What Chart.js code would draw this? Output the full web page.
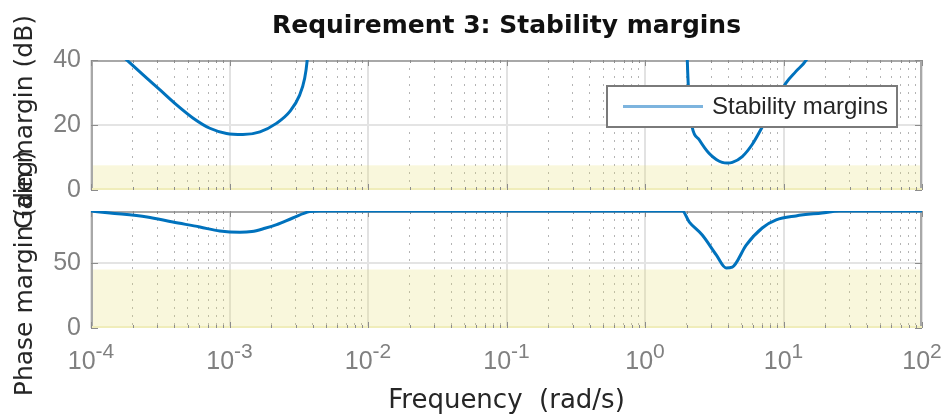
<!DOCTYPE html>
<html>
<head>
<meta charset="utf-8">
<script src="https://cdn.jsdelivr.net/npm/chart.js@4.4.1/dist/chart.umd.min.js"></script>
<style>
  html, body { margin: 0; padding: 0; background: #fff; }
  #wrap { position: relative; width: 951px; height: 419px; }
  #wrap canvas { position: absolute; left: 0; top: 0; }
</style>
</head>
<body>
<div id="wrap">
  <canvas id="gainChart" width="951" height="419"></canvas>
  <canvas id="phaseChart" width="951" height="419"></canvas>
</div>
<script>
// values
const xDecades = [1e-4, 1e-3, 1e-2, 1e-1, 1, 10, 100];
const xExponents = ['-4', '-3', '-2', '-1', '0', '1', '2'];
const gainTicks = [0, 20, 40];
const phaseTicks = [0, 50];
const gainLimit = 7.6;   // dB, shaded requirement band
const phaseLimit = 45;   // deg

// gain margin (dB); null splits the two branches (margin goes off the top)
const gainFreq = [1e-4, 1.81e-4, 2.38e-4, 3.15e-4, 4.15e-4, 5.47e-4, 7.21e-4, 9.52e-4, 1.25e-3, 1.66e-3, 2.18e-3, 2.72e-3, 3.21e-3, 3.49e-3, 3.63e-3, 3.75e-3,
                  0.05,
                  2.0, 2.02, 2.05, 2.11, 2.19, 2.47, 2.91, 3.27, 3.61, 3.93, 4.27, 5.04, 5.94, 7.02, 8.57, 10.4, 12.3, 14.6, 17];
const gainDb = [50, 40, 35.4, 30.8, 26.2, 22.1, 19.0, 17.4, 17.1, 17.9, 20.5, 24.1, 29.2, 34.4, 39.5, 48,
                null,
                48, 40, 32.9, 25, 19.4, 15.4, 11.2, 9.4, 8.5, 8.3, 8.5, 10.3, 14.0, 19.4, 26.2, 32.9, 36.5, 40, 46];

// phase margin (deg)
const phaseFreq = [1e-4, 1.37e-4, 2.54e-4, 3.9e-4, 6.11e-4, 8.51e-4, 1.19e-3, 1.45e-3, 1.8e-3, 2.19e-3, 2.86e-3, 3.79e-3, 4.5e-3,
                   1.86, 2.09, 2.59, 3.27, 3.85, 4.27, 5.38, 7.02, 8.85, 12.3, 19.0, 25.2, 100];
const phaseDeg = [90, 88.5, 85.4, 81.5, 77.7, 74.6, 73.6, 74.2, 76.7, 79.5, 84.6, 89.5, 90,
                  90, 81.5, 71.5, 56.2, 46.2, 46.9, 63.8, 76.9, 83.1, 86.2, 88.5, 90, 90];

const lineBlue = '#0072BD';
const tickGray = '#808080';
const textDark = '#262626';

const isDecade = v => xDecades.includes(v);

function xAxis(height, showTitle) {
  return {
    type: 'logarithmic',
    min: xDecades[0],
    max: xDecades[xDecades.length - 1],
    afterBuildTicks(scale) {
      const t = [];
      xDecades.forEach((d, i) => {
        if (i === xDecades.length - 1) { t.push({ value: d }); return; }
        for (let m = 1; m < 10; m++) t.push({ value: d * m });
      });
      scale.ticks = t;
    },
    afterFit(scale) { scale.height = height; },
    ticks: { display: false, autoSkip: false },
    grid: {
      drawTicks: false,
      color: c => (c.tick && isDecade(c.tick.value)) ? '#e2e2e2' : '#b4b4b4',
      lineWidth: c => (c.tick && isDecade(c.tick.value)) ? 2 : 1
    },
    border: {
      display: false,
      dash: c => (c.tick && !isDecade(c.tick.value)) ? [2, 6] : []
    },
    title: {
      display: showTitle,
      text: 'Frequency  (rad/s)',
      color: textDark,
      font: { family: 'DejaVu Sans', size: 26 },
      padding: { top: 0, bottom: 2 }
    }
  };
}

function yAxis(min, max, tickValues) {
  return {
    min: min,
    max: max,
    afterBuildTicks(scale) { scale.ticks = tickValues.map(v => ({ value: v })); },
    afterFit(scale) { scale.width = 91; },
    ticks: { color: tickGray, padding: 10, font: { family: 'Liberation Sans', size: 25 } },
    grid: {
      drawTicks: false,
      color: c => (c.tick && c.tick.value > min && c.tick.value < max) ? '#e4e4e4' : 'rgba(0,0,0,0)',
      lineWidth: 2
    },
    border: { display: false }
  };
}

// shaded requirement band, axes box, inner tick marks, rotated y label
const axesBox = {
  id: 'axesBox',
  beforeDatasetsDraw(chart, args, opts) {
    const { ctx, chartArea: a } = chart;
    const xs = chart.scales.x, ys = chart.scales.y;
    const yTop = ys.getPixelForValue(opts.limit);
    ctx.save();
    ctx.fillStyle = 'rgba(228,222,110,0.24)';
    ctx.fillRect(a.left, yTop, a.right - a.left, a.bottom - yTop);
    ctx.strokeStyle = 'rgb(240,237,186)';
    ctx.lineWidth = 2;
    ctx.beginPath(); ctx.moveTo(a.left, a.bottom - 1); ctx.lineTo(a.right, a.bottom - 1); ctx.stroke();

    ctx.strokeStyle = '#a8a8a8';
    ctx.lineWidth = 2;
    ctx.beginPath();
    ctx.moveTo(a.left + 1, a.bottom - 2);
    ctx.lineTo(a.left + 1, a.top + 1);
    ctx.lineTo(a.right - 1, a.top + 1);
    ctx.lineTo(a.right - 1, a.bottom - 2);
    ctx.stroke();

    ctx.strokeStyle = '#8c8c8c';
    ctx.lineWidth = 1;
    ctx.beginPath();
    xs.ticks.forEach(t => {
      const px = Math.round(xs.getPixelForValue(t.value)) + 0.5;
      const len = isDecade(t.value) ? 6 : 3;
      ctx.moveTo(px, a.top); ctx.lineTo(px, a.top + len);
      ctx.moveTo(px, a.bottom); ctx.lineTo(px, a.bottom - len);
    });
    ys.ticks.forEach(t => {
      const py = Math.round(ys.getPixelForValue(t.value)) + 0.5;
      ctx.moveTo(a.left, py); ctx.lineTo(a.left + 7, py);
      ctx.moveTo(a.right, py); ctx.lineTo(a.right - 7, py);
    });
    ctx.stroke();
    ctx.restore();
  },
  afterDraw(chart, args, opts) {
    const { ctx, chartArea: a } = chart;
    ctx.save();
    ctx.translate(25, (a.top + a.bottom) / 2 + opts.yShift);
    ctx.rotate(-Math.PI / 2);
    ctx.font = '25px "DejaVu Sans"';
    ctx.fillStyle = textDark;
    ctx.textAlign = 'center';
    ctx.textBaseline = 'middle';
    ctx.fillText(opts.yTitle, 0, 0);
    ctx.restore();
  }
};

// legend box inside the gain axes
const insideLegend = {
  id: 'insideLegend',
  afterDraw(chart) {
    const { ctx } = chart;
    const ds = chart.data.datasets[0];
    ctx.save();
    ctx.fillStyle = '#fff';
    ctx.fillRect(607, 86, 290, 41);
    ctx.strokeStyle = '#7a7a7a';
    ctx.lineWidth = 2;
    ctx.strokeRect(607, 86, 290, 41);
    ctx.strokeStyle = '#7db4de';
    ctx.lineWidth = 3;
    ctx.beginPath(); ctx.moveTo(623, 106.5); ctx.lineTo(703, 106.5); ctx.stroke();
    ctx.fillStyle = textDark;
    ctx.font = '24px "Liberation Sans"';
    ctx.textBaseline = 'middle';
    ctx.fillText(ds.label, 712, 107);
    ctx.restore();
  }
};

// x tick labels written as 10 with a raised exponent
const powerLabels = {
  id: 'powerLabels',
  afterDraw(chart) {
    const { ctx } = chart;
    const xs = chart.scales.x;
    ctx.save();
    ctx.fillStyle = tickGray;
    ctx.textBaseline = 'alphabetic';
    xDecades.forEach((d, i) => {
      const px = xs.getPixelForValue(d);
      ctx.font = '25px "Liberation Sans"';
      const wb = ctx.measureText('10').width;
      ctx.font = '21px "Liberation Sans"';
      const we = ctx.measureText(xExponents[i]).width;
      const x0 = px - (wb + we) / 2;
      ctx.font = '25px "Liberation Sans"';
      ctx.fillText('10', x0, 369);
      ctx.font = '21px "Liberation Sans"';
      ctx.fillText(xExponents[i], x0 + wb, 358);
    });
    ctx.restore();
  }
};

function series(xs, ys) {
  return xs.map((f, i) => ({ x: f, y: ys[i] }));
}

const common = {
  responsive: false,
  animation: false,
  devicePixelRatio: 1,
  events: []
};

new Chart(document.getElementById('gainChart'), {
  type: 'line',
  data: {
    datasets: [{
      label: 'Stability margins',
      data: series(gainFreq, gainDb),
      borderColor: lineBlue,
      borderWidth: 3,
      pointRadius: 0,
      cubicInterpolationMode: 'monotone',
      spanGaps: false
    }]
  },
  options: Object.assign({}, common, {
    layout: { autoPadding: false, padding: { left: 0, right: 29, top: 0, bottom: 0 } },
    scales: { x: xAxis(419 - 190, false), y: yAxis(0, 40, gainTicks) },
    plugins: {
      legend: { display: false },
      tooltip: { enabled: false },
      title: {
        display: true,
        fullSize: false,
        text: 'Requirement 3: Stability margins',
        color: '#111',
        font: { family: 'DejaVu Sans', size: 25, weight: 'bold' },
        padding: { top: 11, bottom: 19 }
      },
      axesBox: { limit: gainLimit, yTitle: 'Gain margin (dB)', yShift: -3 }
    }
  }),
  plugins: [axesBox, insideLegend]
});

new Chart(document.getElementById('phaseChart'), {
  type: 'line',
  data: {
    datasets: [{
      label: 'Stability margins',
      data: series(phaseFreq, phaseDeg),
      borderColor: lineBlue,
      borderWidth: 3,
      pointRadius: 0,
      cubicInterpolationMode: 'monotone'
    }]
  },
  options: Object.assign({}, common, {
    layout: { autoPadding: false, padding: { left: 0, right: 29, top: 211, bottom: 0 } },
    scales: { x: xAxis(419 - 328, true), y: yAxis(0, 90, phaseTicks) },
    plugins: {
      legend: { display: false },
      tooltip: { enabled: false },
      axesBox: { limit: phaseLimit, yTitle: 'Phase margin (deg)', yShift: 4 }
    }
  }),
  plugins: [axesBox, powerLabels]
});
</script>
</body>
</html>
